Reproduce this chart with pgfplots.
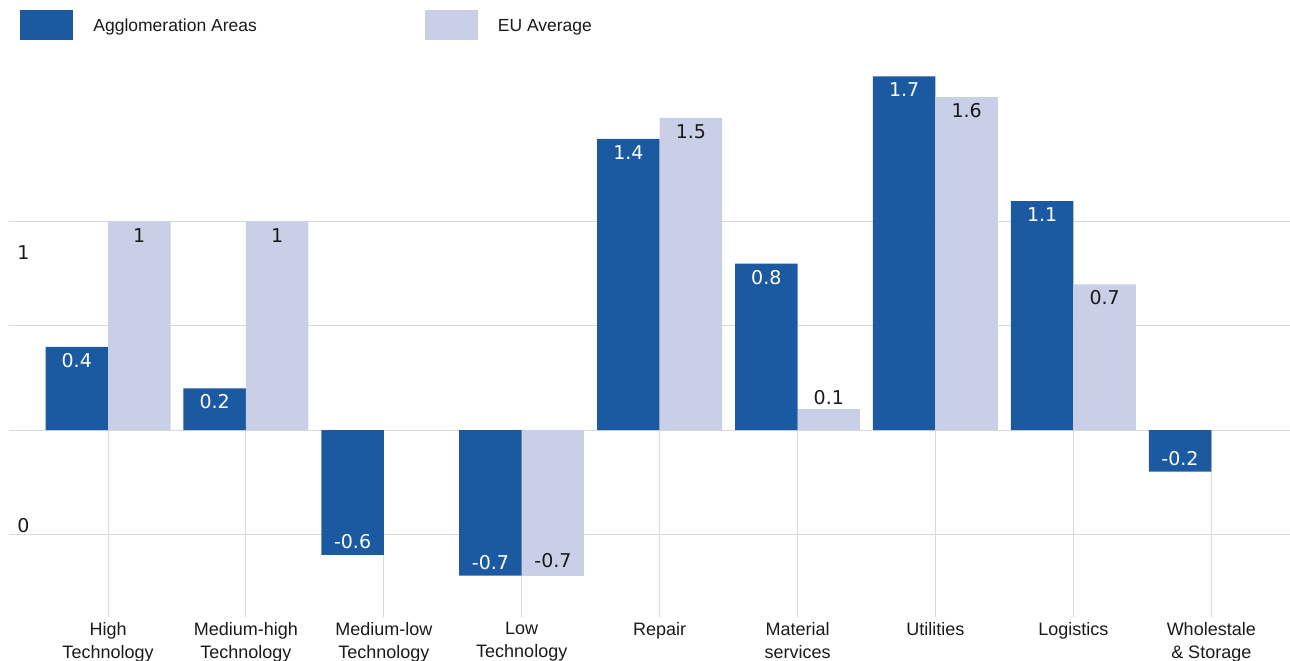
\documentclass[border=0pt]{standalone}
\usepackage{fontspec}
\setsansfont{Liberation Sans}
\newfontfamily\numfont{DejaVu Sans}
\usepackage{pgfplots}
\pgfplotsset{compat=1.18}

\definecolor{agglo}{HTML}{1B5AA1}
\definecolor{euavg}{HTML}{CACFE8}
\definecolor{gridc}{HTML}{D9D9D9}
\definecolor{labeldark}{HTML}{1A1A1A}

\begin{document}
\begin{tikzpicture}
\path[use as bounding box] (0,0) rectangle (645pt,330pt);
\begin{axis}[
  at={(4.5pt,21.4pt)}, anchor=south west,
  scale only axis, width=640.5pt, height=286pt,
  xmin=-0.718, xmax=8.571,
  ymin=-0.9, ymax=1.85,
  axis line style={draw=none},
  major tick length=0pt,
  ybar, bar width=0.4532,
  xtick={0,...,8},
  xticklabels={{High\\Technology},{Medium-high\\Technology},{Medium-low\\Technology},{Low\\Technology},{Repair},{Material\\services},{Utilities},{Logistics},{Wholestale\\\& Storage}},
  xticklabel style={align=center, anchor=north, inner sep=0pt, yshift=-2.5pt,
    font=\sffamily\fontsize{9pt}{11.5pt}\selectfont, text=labeldark},
  ytick={-0.4615,0.851},
  yticklabels={0,1},
  yticklabel style={anchor=west, inner sep=0pt, xshift=4pt,
    font=\numfont\fontsize{9.5pt}{12pt}\selectfont, text=labeldark},
  extra y ticks={-0.5,0,0.5,1},
  extra y tick labels={},
  extra y tick style={grid=major, major grid style={gridc, line width=0.5pt}},
  /pgf/number format/.cd, fixed, precision=1, assume math mode=true, /pgfplots/.cd,
  legend columns=2,
  legend cell align=left,
  legend style={at={(0.0086,1.0615)}, anchor=north west, draw=none, fill=none,
    inner sep=0pt, font=\sffamily\fontsize{8.75pt}{10pt}\selectfont,
    text=labeldark, nodes={inner sep=0pt, text depth=0pt},
    /tikz/every odd column/.append style={column sep=10pt},
    /tikz/every even column/.append style={column sep=84pt}},
  every node near coord/.append style={font=\numfont\fontsize{9.5pt}{12pt}\selectfont, inner sep=0pt},
]

% category separators below the zero line
\pgfplotsinvokeforeach{0,...,8}{
  \draw[gridc, line width=0.5pt] (axis cs:#1,0) -- (axis cs:#1,-0.9);
}

% Agglomeration Areas, positive values
\addplot[fill=agglo, draw=none, bar shift=-0.2266,
  nodes near coords, nodes near coords align=center,
  nodes near coords style={anchor=center, yshift=-6.75pt, text=white},
  legend image code/.code={\fill[agglo] (0pt,-7.5pt) rectangle (26.5pt,7.5pt);}]
  coordinates {(0,0.4) (1,0.2) (4,1.4) (5,0.8) (6,1.7) (7,1.1)};
\addlegendentry{Agglomeration Areas}

% Agglomeration Areas, negative values
\addplot[fill=agglo, draw=none, bar shift=-0.2266, forget plot,
  nodes near coords, nodes near coords align=center,
  nodes near coords style={anchor=center, yshift=6.75pt, text=white}]
  coordinates {(2,-0.6) (3,-0.7) (8,-0.2)};

% EU Average, positive values
\addplot[fill=euavg, draw=none, bar shift=0.2266,
  nodes near coords, nodes near coords align=center,
  nodes near coords style={anchor=center, yshift=-6.75pt, text=labeldark},
  legend image code/.code={\fill[euavg] (0pt,-7.5pt) rectangle (26.5pt,7.5pt);}]
  coordinates {(0,1) (1,1) (4,1.5) (6,1.6) (7,0.7)};
\addlegendentry{EU Average}

% EU Average, small value labelled above the bar
\addplot[fill=euavg, draw=none, bar shift=0.2266, forget plot,
  nodes near coords, nodes near coords align=center,
  nodes near coords style={anchor=center, yshift=5.75pt, text=labeldark}]
  coordinates {(5,0.1)};

% EU Average, negative values
\addplot[fill=euavg, draw=none, bar shift=0.2266, forget plot,
  nodes near coords, nodes near coords align=center,
  nodes near coords style={anchor=center, yshift=7.5pt, text=labeldark}]
  coordinates {(3,-0.7)};

\end{axis}
\end{tikzpicture}
\end{document}
